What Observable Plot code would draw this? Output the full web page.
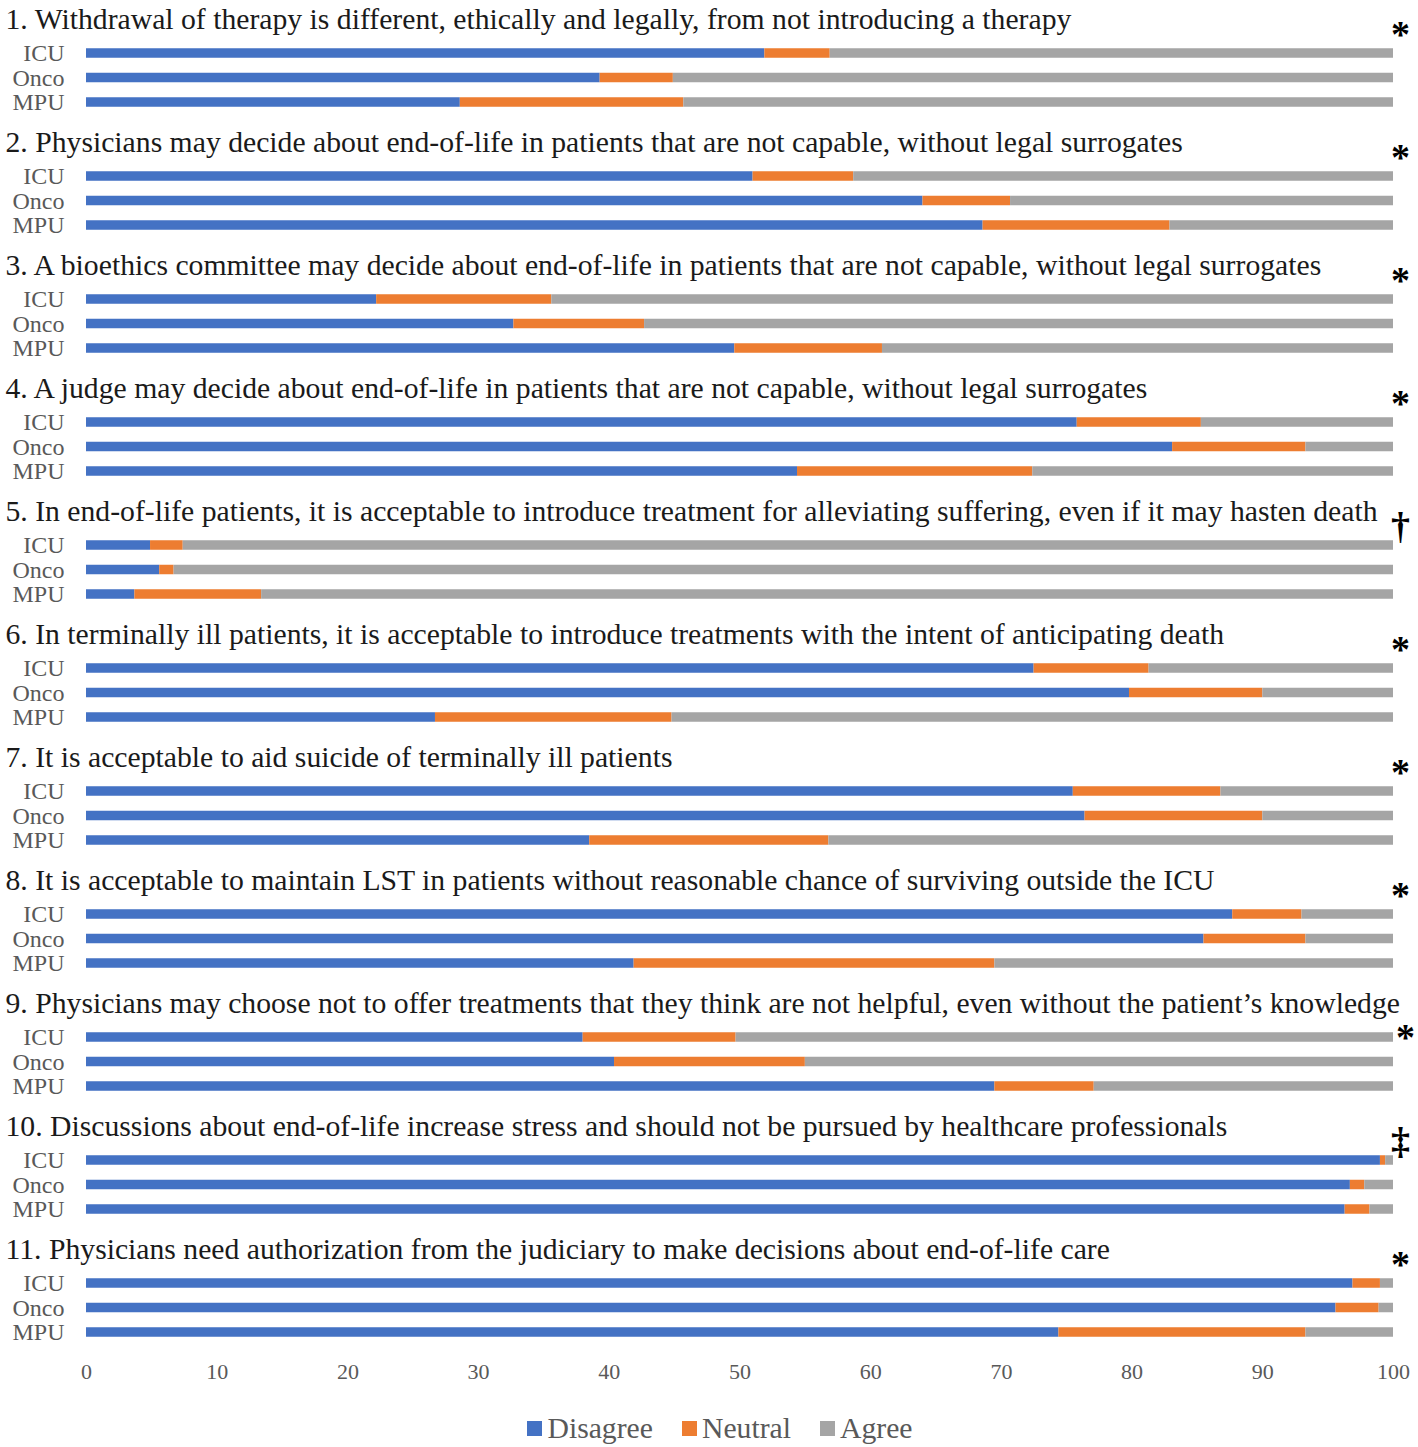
<!DOCTYPE html>
<html><head><meta charset="utf-8">
<script src="https://cdn.jsdelivr.net/npm/d3@7"></script>
<script src="https://cdn.jsdelivr.net/npm/@observablehq/plot@0.6"></script>
<style>
body{margin:0;background:#fff;font-family:"Liberation Serif","Times New Roman",serif;}
#legend{display:flex;justify-content:center;gap:29px;margin-top:12px;font-size:29.7px;color:#595959;padding-left:22px;}
#legend span.item{display:inline-flex;align-items:center;gap:5px;}
#legend span.sw{display:inline-block;width:15px;height:15px;}
</style></head><body><div id="chart"></div><div id="legend"></div><script>
const questions = [
  "1. Withdrawal of therapy is different, ethically and legally, from not introducing a therapy",
  "2. Physicians may decide about end-of-life in patients that are not capable, without legal surrogates",
  "3. A bioethics committee may decide about end-of-life in patients that are not capable, without legal surrogates",
  "4. A judge may decide about end-of-life in patients that are not capable, without legal surrogates",
  "5. In end-of-life patients, it is acceptable to introduce treatment for alleviating suffering, even if it may hasten death",
  "6. In terminally ill patients, it is acceptable to introduce treatments with the intent of anticipating death",
  "7. It is acceptable to aid suicide of terminally ill patients",
  "8. It is acceptable to maintain LST in patients without reasonable chance of surviving outside the ICU",
  "9. Physicians may choose not to offer treatments that they think are not helpful, even without the patient\u2019s knowledge",
  "10. Discussions about end-of-life increase stress and should not be pursued by healthcare professionals",
  "11. Physicians need authorization from the judiciary to make decisions about end-of-life care"
];
const symbols = ["*","*","*","*","\u2020","*","*","*","*","\u2021","*"];
const groups = ["ICU","Onco","MPU"];
const responses = ["Disagree","Neutral","Agree"];
const colors = ["#4472C4","#ED7D31","#A5A5A5"];
// values per question: [ICU, Onco, MPU]
const disagree = [
  [51.9,39.3,28.6],[51.0,64.0,68.6],[22.2,32.7,49.6],[75.8,83.1,54.4],[4.9,5.6,3.7],
  [72.5,79.8,26.7],[75.5,76.4,38.5],[87.7,85.5,41.9],[38.0,40.4,69.5],[99.0,96.7,96.3],[96.9,95.6,74.4]
];
const neutral = [
  [5.0,5.6,17.1],[7.7,6.7,14.3],[13.4,10.0,11.3],[9.5,10.2,18.0],[2.5,1.1,9.7],
  [8.8,10.2,18.1],[11.3,13.6,18.3],[5.3,7.8,27.6],[11.7,14.6,7.6],[0.4,1.1,1.9],[2.1,3.3,18.9]
];
const agree = [
  [43.1,55.1,54.3],[41.3,29.3,17.1],[64.4,57.3,39.1],[14.7,6.7,27.6],[92.6,93.3,86.6],
  [18.7,10.0,55.2],[13.2,10.0,43.2],[7.0,6.7,30.5],[50.3,45.0,22.9],[0.6,2.2,1.8],[1.0,1.1,6.7]
];
const xTicks = [0,10,20,30,40,50,60,70,80,90,100];

const series = [disagree, neutral, agree];
const rows = [];
questions.forEach((q, qi) => {
  groups.forEach((g, gi) => {
    responses.forEach((r, ri) => {
      rows.push({q: qi + 1, group: g, response: r, value: series[ri][qi][gi]});
    });
  });
});

const width = 1418;
const height = 1400;
const marginTop = 40.75;
const facetBottom = 1344.25;
const titleSize = 29.7;
const fontStack = '"Liberation Serif","Times New Roman",serif';

// measure titles: a title that reaches the significance mark pushes the mark down beside the bars
const ctx = document.createElement("canvas").getContext("2d");
ctx.font = `${titleSize}px ${fontStack}`;
const titleEnd = questions.map(t => 5 + ctx.measureText(t).width);
const symData = symbols.map((s, i) => ({s, q: i + 1, long: titleEnd[i] > width - 40}));

const chart = Plot.plot({
  width,
  height,
  marginTop,
  marginBottom: height - facetBottom,
  marginLeft: 86,
  marginRight: 25,
  style: {fontFamily: fontStack, color: "#595959", background: "#fff", overflow: "visible"},
  x: {domain: [0, 100]},
  y: {domain: groups, padding: 0, round: false},
  fy: {domain: questions.map((d, i) => i + 1), axis: null, paddingInner: 0.4024, paddingOuter: 0, round: false},
  color: {domain: responses, range: colors},
  marks: [
    Plot.barX(rows, Plot.stackX({x: "value", y: "group", fy: "q", fill: "response", insetTop: 7.5, insetBottom: 7.5})),
    Plot.axisY({tickSize: 0, tickPadding: 22, fontSize: 24, label: null}),
    Plot.axisX({ticks: xTicks, tickSize: 0, tickPadding: 19, fontSize: 22, label: null}),
    Plot.text(questions, {fy: (d, i) => i + 1, text: d => d, frameAnchor: "top-left", textAnchor: "start", lineAnchor: "middle", dx: -81, dy: -22, fontSize: titleSize, fill: "#1a1a1a"}),
    Plot.text(symData.filter(d => !d.long), {fy: "q", text: "s", frameAnchor: "top-right", textAnchor: "middle", lineAnchor: "middle", dx: 7, dy: -6, fontSize: 38, fontWeight: "bold", fill: "#000"}),
    Plot.text(symData.filter(d => d.long), {fy: "q", text: "s", frameAnchor: "top-right", textAnchor: "middle", lineAnchor: "middle", dx: 12, dy: 13, fontSize: 38, fontWeight: "bold", fill: "#000"})
  ]
});
document.getElementById("chart").appendChild(chart);

const legend = document.getElementById("legend");
responses.forEach((r, i) => {
  const item = document.createElement("span");
  item.className = "item";
  const sw = document.createElement("span");
  sw.className = "sw";
  sw.style.background = colors[i];
  item.appendChild(sw);
  item.appendChild(document.createTextNode(r));
  legend.appendChild(item);
});
</script></body></html>
